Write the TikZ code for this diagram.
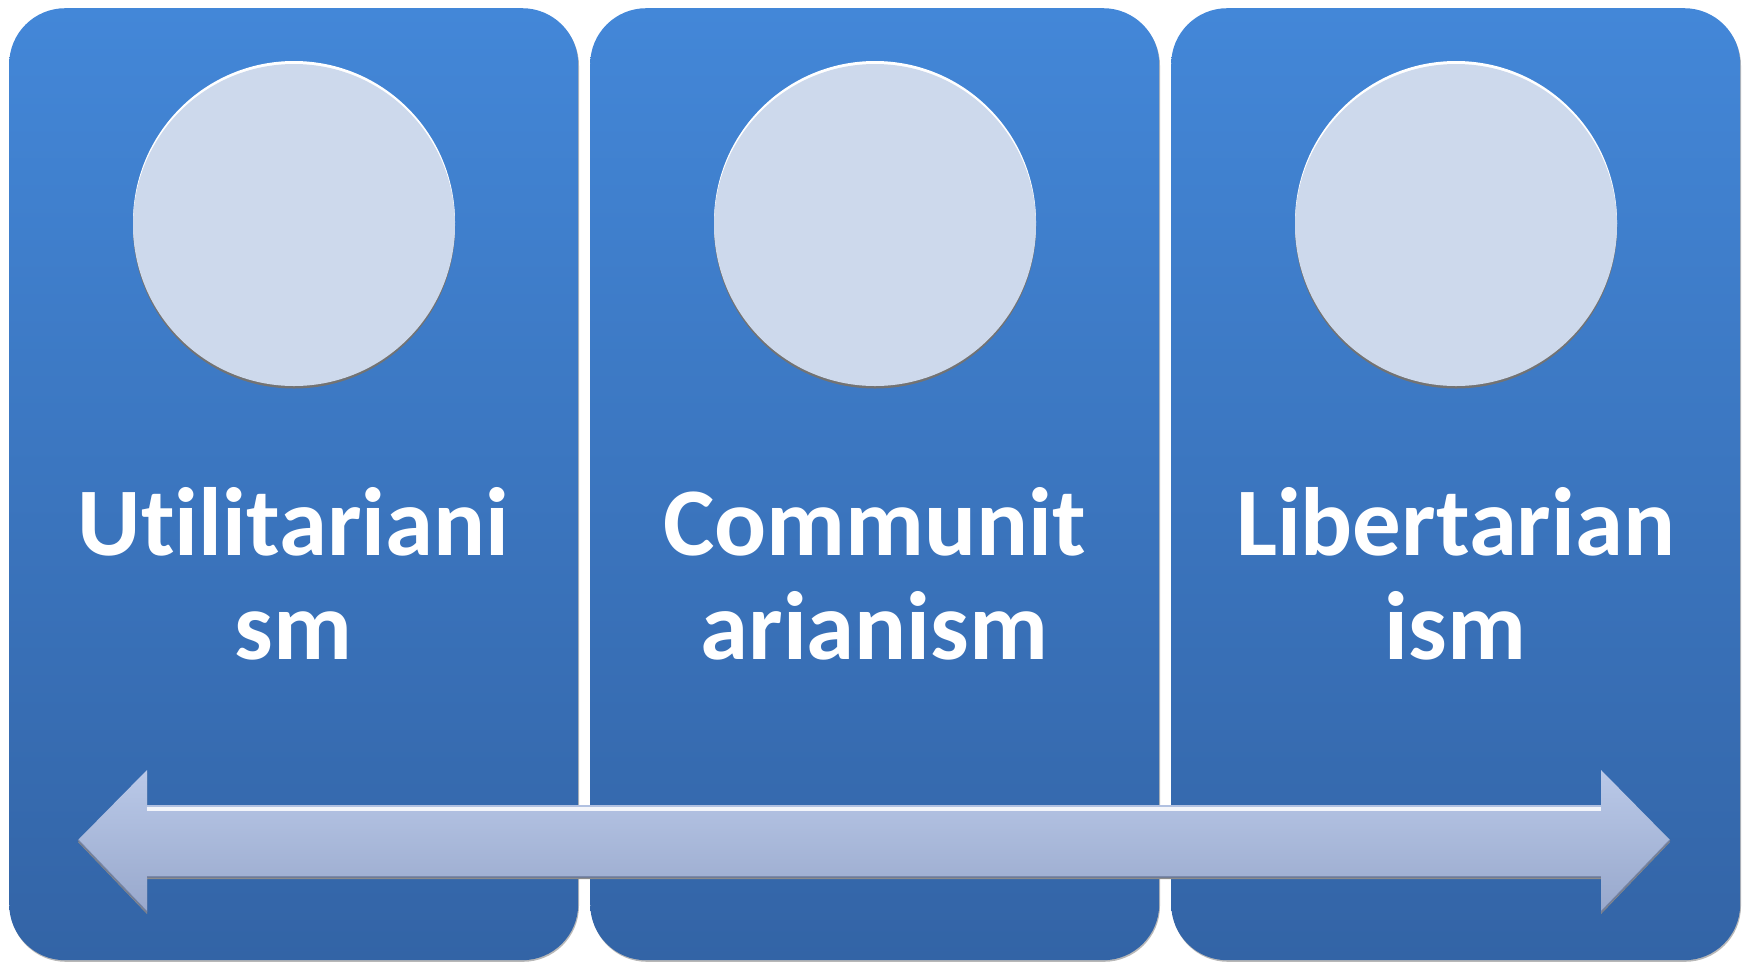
\documentclass[tikz,border=0pt]{standalone}
\usepackage{fontspec}
\setmainfont{Carlito}[RawFeature={-liga;-clig;-calt;-dlig}]
\definecolor{boxtop}{RGB}{67,135,216}
\definecolor{boxbot}{RGB}{51,100,166}
\definecolor{discfill}{RGB}{205,217,236}
\definecolor{arrtop}{RGB}{186,201,232}
\definecolor{arrbot}{RGB}{152,168,204}
\definecolor{arredge}{RGB}{95,110,145}
\tikzset{
  panel/.style={rounded corners=56pt, top color=boxtop, bottom color=boxbot, draw=none,
    preaction={fill=black!28, transform canvas={xshift=0.8pt,yshift=-1.6pt}},
    minimum width=569pt, minimum height=952pt, inner sep=0pt, anchor=north west},
  disc/.style={circle, minimum size=322pt, inner sep=0pt, fill=discfill,
    preaction={fill=black!55, transform canvas={yshift=-2.5pt}},
    preaction={fill=white, transform canvas={yshift=3pt}}},
  label/.style={text=white, font=\fontsize{97}{101}\selectfont\bfseries, anchor=base, inner sep=0pt},
  bar/.style={top color=arrtop, bottom color=arrbot, draw=none},
}
\begin{document}
\begin{tikzpicture}[x=1pt,y=-1pt]
\useasboundingbox (0,0) rectangle (1752,962);
\fill[white] (0,0) rectangle (1752,962);
% panels
\node[panel] (p1) at (9,8) {};
\node[panel] (p2) at (590,8) {};
\node[panel] (p3) at (1171,8) {};
% discs
\node[disc] (c1) at (294,225) {};
\node[disc] (c2) at (875,225) {};
\node[disc] (c3) at (1456,225) {};
% labels
\node[label] (t1a) at (293.5,555) {Utilitariani};
\node[label] (t1b) at (293.5,659) {sm};
\node[label] (t2a) at (874.5,555) {Communit};
\node[label] (t2b) at (874.5,659) {arianism};
\node[label] (t3a) at (1455.5,555) {Libertarian};
\node[label] (t3b) at (1455.5,659) {ism};
% double arrow
\coordinate (lt) at (78,840);
\coordinate (lht) at (147,770);
\coordinate (lst) at (147,805);
\coordinate (rst) at (1601,805);
\coordinate (rht) at (1601,770);
\coordinate (rt) at (1670,840);
\coordinate (rhb) at (1601,912);
\coordinate (rsb) at (1601,877);
\coordinate (lsb) at (147,877);
\coordinate (lhb) at (147,912);
\path[fill=black!45, transform canvas={yshift=-2pt}] (lt) -- (lht) -- (lst) -- (rst) -- (rht) -- (rt) -- (rhb) -- (rsb) -- (lsb) -- (lhb) -- cycle;
\path[bar] (lt) -- (lht) -- (lst) -- (rst) -- (rht) -- (rt) -- (rhb) -- (rsb) -- (lsb) -- (lhb) -- cycle;
\draw[white, line width=4pt, opacity=0.85] ([yshift=-4pt]lst) -- ([yshift=-4pt]rst);
\draw[arredge, line width=1.5pt, opacity=0.6] (lsb) -- (rsb);
\draw[arredge, line width=1.5pt, opacity=0.6] (rt) -- (rhb);
\draw[arredge, line width=1.5pt, opacity=0.6] (lhb) -- (lt);
\end{tikzpicture}
\end{document}
